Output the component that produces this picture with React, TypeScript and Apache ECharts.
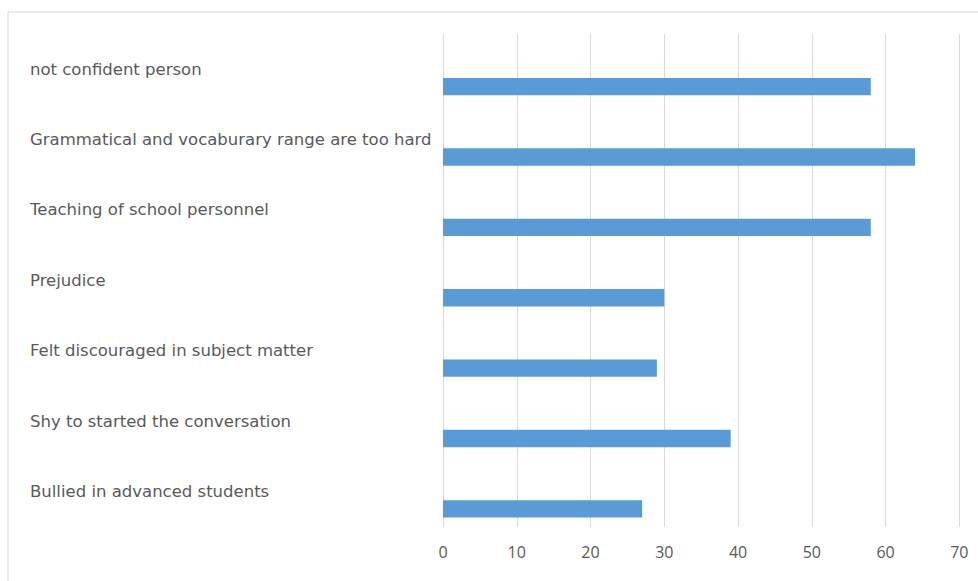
import React, { useEffect, useRef } from "react";
import * as echarts from "echarts";

const categories = [
  "not confident person",
  "Grammatical and vocaburary range are too hard",
  "Teaching of school personnel",
  "Prejudice",
  "Felt discouraged in subject matter",
  "Shy to started the conversation",
  "Bullied in advanced students",
];
const values = [58, 64, 58, 30, 29, 39, 27];
const emptySlot = categories.map(() => null);
const xMin = 0;
const xMax = 70;
const xStep = 10;

export default function App() {
  const ref = useRef<HTMLDivElement>(null);
  useEffect(() => {
    if (!ref.current) return;
    const chart = echarts.init(ref.current, null, { renderer: "svg" });
    const font = "'Open Sans', 'Noto Sans', sans-serif";
    const labelFont = "'DejaVu Sans', 'Open Sans', sans-serif";
    chart.setOption({
      animation: false,
      backgroundColor: "#ffffff",
      textStyle: { fontFamily: font },
      graphic: [
        {
          type: "rect",
          shape: { x: 8, y: 12, width: 990, height: 600 },
          style: { fill: "none", stroke: "#D9D9D9", lineWidth: 1 },
          silent: true,
          z: -1,
        },
      ],
      grid: { left: 443, right: 18.7, top: 34, bottom: 54.3, containLabel: false },
      xAxis: {
        type: "value",
        min: xMin,
        max: xMax,
        interval: xStep,
        axisLine: { show: false },
        axisTick: { show: false },
        splitLine: { show: true, lineStyle: { color: "#D9D9D9", width: 1 } },
        axisLabel: { color: "#595959", fontSize: 16, fontFamily: font, margin: 17 },
      },
      yAxis: {
        type: "category",
        data: categories,
        inverse: true,
        axisLine: { show: false },
        axisTick: { show: false },
        splitLine: { show: false },
        axisLabel: {
          color: "#595959",
          fontSize: 16.5,
          fontFamily: labelFont,
          align: "left",
          margin: 413,
        },
      },
      series: [
        {
          type: "bar",
          data: emptySlot,
          barWidth: 17.4,
          barGap: "100%",
          itemStyle: { color: "#5B9BD5" },
        },
        {
          type: "bar",
          data: values,
          barWidth: 17.4,
          barGap: "100%",
          itemStyle: { color: "#5B9BD5" },
        },
      ],
    });
    return () => chart.dispose();
  }, []);
  return (
    <div
      ref={ref}
      style={{ position: "absolute", left: 0, top: 0, width: 978, height: 581 }}
    />
  );
}
